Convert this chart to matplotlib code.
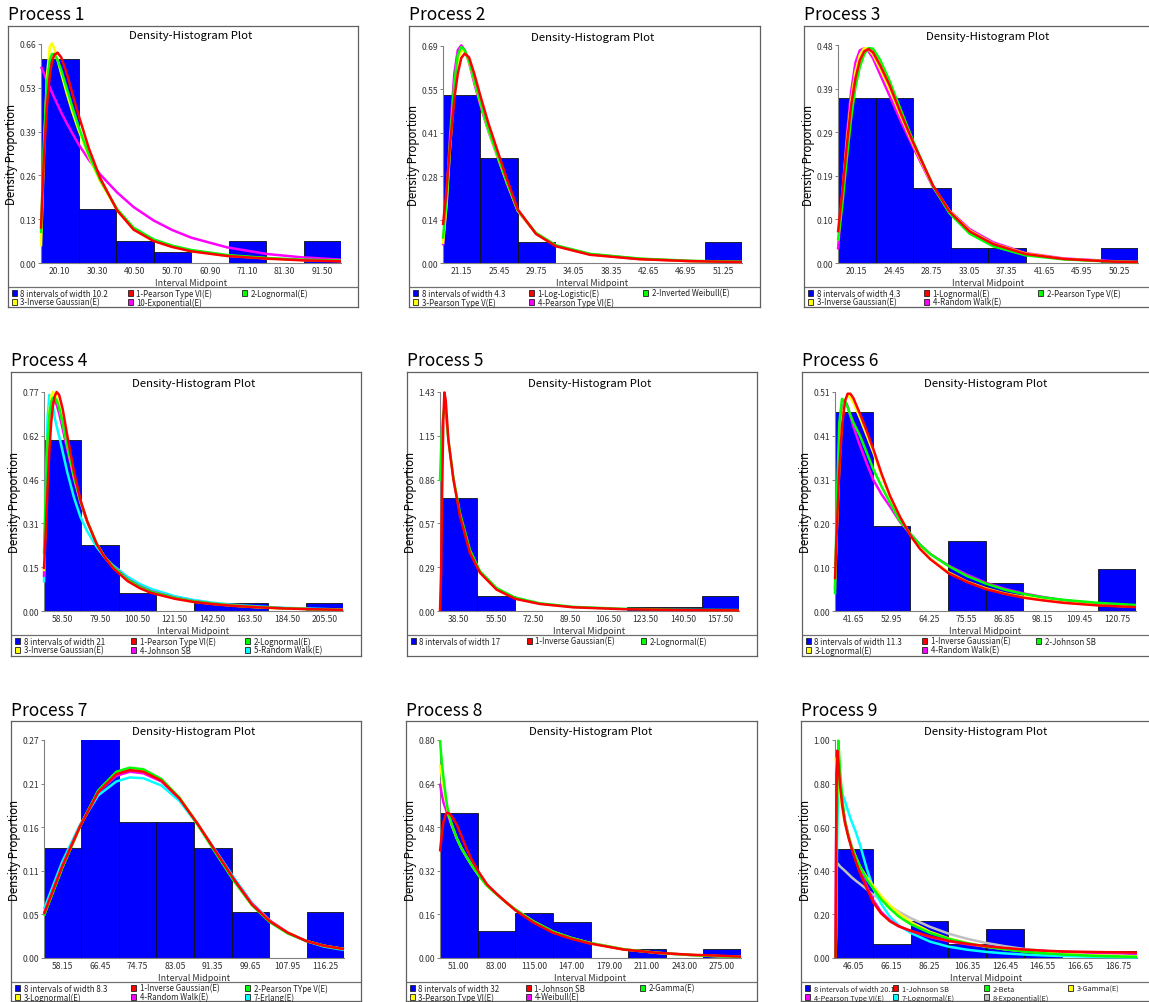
import numpy as np
import matplotlib
matplotlib.use('Agg')
from matplotlib import pyplot as plt
from matplotlib.patches import Rectangle

plt.rcParams['font.family'] = ['Noto Sans CJK KR', 'DejaVu Sans']

# ---------------- Process 1 ----------------
p1_mid = [20.10, 30.30, 40.50, 50.70, 60.90, 71.10, 81.30, 91.50]
p1_width = 10.2
p1_hist = [0.613, 0.161, 0.065, 0.032, 0.0, 0.065, 0.0, 0.065]
p1_ymax = 0.658
p1_yticks = ['0.00', '0.13', '0.26', '0.39', '0.53', '0.66']
p1_labels = ['8 intervals of width 10.2', '1-Pearson Type VI(E)', '2-Lognormal(E)',
             '3-Inverse Gaussian(E)', '10-Exponential(E)']
p1_x = [15.0, 15.8, 16.6, 17.4, 18.0, 18.6, 19.5, 20.5, 22.0, 23.5, 25.2, 28.0, 31.1,
        35.7, 40.2, 45.6, 50.7, 55.9, 65.6, 76.5, 86.0, 96.6]
p1_pearson6 = [0.103, 0.32, 0.47, 0.565, 0.605, 0.625, 0.632, 0.618, 0.57, 0.51, 0.445, 0.345,
               0.255, 0.158, 0.100, 0.066, 0.048, 0.035, 0.021, 0.013, 0.008, 0.005]
p1_lognorm = [0.09, 0.36, 0.54, 0.61, 0.628, 0.628, 0.61, 0.58, 0.525, 0.47, 0.41, 0.325,
              0.25, 0.162, 0.106, 0.071, 0.052, 0.039, 0.024, 0.015, 0.010, 0.007]
p1_invgauss = [0.05, 0.33, 0.56, 0.65, 0.66, 0.645, 0.61, 0.57, 0.51, 0.455, 0.40, 0.32,
               0.245, 0.160, 0.103, 0.068, 0.049, 0.036, 0.022, 0.014, 0.009, 0.006]
p1_expon = [0.59, 0.57, 0.548, 0.527, 0.512, 0.497, 0.476, 0.452, 0.42, 0.39, 0.357, 0.31,
            0.266, 0.212, 0.168, 0.128, 0.099, 0.076, 0.047, 0.027, 0.017, 0.010]

# ---------------- Process 2 ----------------
p2_mid = [21.15, 25.45, 29.75, 34.05, 38.35, 42.65, 46.95, 51.25]
p2_width = 4.3
p2_hist = [0.533, 0.333, 0.067, 0.0, 0.0, 0.0, 0.0, 0.067]
p2_ymax = 0.688
p2_yticks = ['0.00', '0.14', '0.28', '0.41', '0.55', '0.69']
p2_labels = ['8 intervals of width 4.3', '1-Log-Logistic(E)', '2-Inverted Weibull(E)',
             '3-Pearson Type V(E)', '4-Pearson Type VI(E)']
p2_x = [19.0, 19.4, 19.8, 20.3, 20.7, 21.1, 21.5, 22.0, 22.6, 23.3, 24.2, 25.1, 26.3, 27.6,
        29.7, 32.0, 35.9, 41.6, 47.4, 53.4]
p2_loglogistic = [0.12, 0.23, 0.37, 0.52, 0.60, 0.65, 0.664, 0.652, 0.60, 0.53, 0.445, 0.37,
                  0.27, 0.17, 0.092, 0.053, 0.026, 0.012, 0.006, 0.003]
p2_invweibull = [0.077, 0.2, 0.38, 0.57, 0.66, 0.685, 0.675, 0.64, 0.58, 0.51, 0.425, 0.355,
                 0.26, 0.167, 0.095, 0.056, 0.029, 0.014, 0.007, 0.004]
p2_pearson5 = [0.06, 0.18, 0.36, 0.55, 0.645, 0.673, 0.67, 0.638, 0.578, 0.508, 0.423, 0.352,
               0.258, 0.166, 0.094, 0.055, 0.028, 0.013, 0.006, 0.003]
p2_pearson6 = [0.056, 0.2, 0.40, 0.60, 0.675, 0.69, 0.675, 0.635, 0.57, 0.50, 0.42, 0.35,
               0.257, 0.165, 0.094, 0.055, 0.028, 0.013, 0.006, 0.003]

# ---------------- Process 3 ----------------
p3_mid = [20.15, 24.45, 28.75, 33.05, 37.35, 41.65, 45.95, 50.25]
p3_width = 4.3
p3_hist = [0.367, 0.367, 0.167, 0.033, 0.033, 0.0, 0.0, 0.033]
p3_ymax = 0.484
p3_yticks = ['0.00', '0.10', '0.19', '0.29', '0.39', '0.48']
p3_labels = ['8 intervals of width 4.3', '1-Lognormal(E)', '2-Pearson Type V(E)',
             '3-Inverse Gaussian(E)', '4-Random Walk(E)']
p3_x = [18.0, 18.5, 19.0, 19.5, 20.0, 20.5, 21.0, 21.5, 22.0, 22.8, 23.9, 25.2, 26.6, 28.9,
        30.8, 33.1, 35.8, 39.5, 43.9, 49.6, 52.4]
p3_lognorm = [0.068, 0.16, 0.26, 0.35, 0.41, 0.45, 0.47, 0.475, 0.468, 0.44, 0.395, 0.332,
              0.268, 0.172, 0.114, 0.07, 0.042, 0.02, 0.009, 0.003, 0.002]
p3_pearson5 = [0.05, 0.13, 0.23, 0.32, 0.39, 0.435, 0.463, 0.477, 0.476, 0.452, 0.405, 0.34,
               0.272, 0.17, 0.11, 0.065, 0.037, 0.017, 0.008, 0.003, 0.002]
p3_invgauss = [0.05, 0.15, 0.265, 0.36, 0.425, 0.462, 0.477, 0.474, 0.463, 0.432, 0.386, 0.326,
               0.264, 0.17, 0.115, 0.072, 0.043, 0.021, 0.009, 0.003, 0.002]
p3_randwalk = [0.03, 0.15, 0.28, 0.38, 0.445, 0.472, 0.477, 0.47, 0.455, 0.42, 0.372, 0.315,
               0.258, 0.168, 0.116, 0.075, 0.046, 0.022, 0.01, 0.004, 0.002]

# ---------------- Process 4 ----------------
p4_mid = [58.50, 79.50, 100.50, 121.50, 142.50, 163.50, 184.50, 205.50]
p4_width = 21
p4_hist = [0.600, 0.232, 0.065, 0.0, 0.029, 0.029, 0.0, 0.029]
p4_ymax = 0.77
p4_yticks = ['0.00', '0.15', '0.31', '0.46', '0.62', '0.77']
p4_labels = ['8 intervals of width 21', '1-Pearson Type VI(E)', '2-Lognormal(E)',
             '3-Inverse Gaussian(E)', '4-Johnson SB', '5-Random Walk(E)']
p4_x = [48.0, 49.0, 50.0, 51.0, 52.0, 53.0, 54.0, 55.1, 56.5, 58.5, 61.0, 64.8, 68.5, 72.3,
        77.6, 82.0, 86.9, 95.0, 101.9, 108.0, 121.5, 131.8, 143.0, 154.3, 168.0, 182.3,
        200.0, 216.0]
p4_pearson6 = [0.147, 0.28, 0.43, 0.56, 0.66, 0.72, 0.755, 0.77, 0.76, 0.71, 0.62, 0.49, 0.39,
               0.315, 0.235, 0.19, 0.15, 0.105, 0.08, 0.064, 0.043, 0.032, 0.024, 0.018,
               0.013, 0.009, 0.006, 0.004]
p4_lognorm = [0.20, 0.42, 0.60, 0.69, 0.735, 0.75, 0.75, 0.74, 0.715, 0.66, 0.585, 0.475,
              0.385, 0.315, 0.237, 0.19, 0.155, 0.11, 0.085, 0.068, 0.046, 0.034, 0.026,
              0.019, 0.014, 0.010, 0.006, 0.004]
p4_invgauss = [0.14, 0.38, 0.58, 0.70, 0.755, 0.77, 0.765, 0.75, 0.72, 0.665, 0.585, 0.475,
               0.385, 0.315, 0.235, 0.19, 0.153, 0.108, 0.083, 0.066, 0.045, 0.033, 0.025,
               0.019, 0.013, 0.009, 0.006, 0.004]
p4_johnsonsb = [0.12, 0.37, 0.57, 0.68, 0.73, 0.746, 0.74, 0.725, 0.695, 0.64, 0.57, 0.465,
                0.38, 0.313, 0.237, 0.192, 0.157, 0.112, 0.087, 0.07, 0.047, 0.035, 0.026,
                0.02, 0.014, 0.01, 0.006, 0.004]
p4_randwalk = [0.10, 0.42, 0.68, 0.76, 0.75, 0.72, 0.68, 0.65, 0.615, 0.56, 0.49, 0.40, 0.33,
               0.28, 0.225, 0.19, 0.16, 0.12, 0.095, 0.078, 0.052, 0.039, 0.029, 0.022,
               0.016, 0.011, 0.008, 0.005]

# ---------------- Process 5 ----------------
p5_mid = [38.50, 55.50, 72.50, 89.50, 106.50, 123.50, 140.50, 157.50]
p5_width = 17
p5_hist = [0.738, 0.098, 0.0, 0.0, 0.0, 0.028, 0.028, 0.098]
p5_ymax = 1.433
p5_yticks = ['0.00', '0.29', '0.57', '0.86', '1.15', '1.43']
p5_labels = ['8 intervals of width 17', '1-Inverse Gaussian(E)', '2-Lognormal(E)']
p5_x = [30.0, 30.5, 31.0, 31.5, 32.0, 32.6, 33.8, 36.1, 39.1, 43.6, 48.2, 55.7, 64.1, 75.4,
        90.6, 113.3, 136.0, 166.0]
p5_invgauss = [0.0, 0.25, 0.8, 1.25, 1.43, 1.38, 1.12, 0.86, 0.62, 0.38, 0.25, 0.14, 0.08,
               0.046, 0.024, 0.012, 0.007, 0.004]
p5_lognorm = [0.85, 1.05, 1.2, 1.29, 1.33, 1.3, 1.12, 0.87, 0.64, 0.40, 0.26, 0.15, 0.088,
              0.05, 0.027, 0.014, 0.009, 0.006]

# ---------------- Process 6 ----------------
p6_mid = [41.65, 52.95, 64.25, 75.55, 86.85, 98.15, 109.45, 120.75]
p6_width = 11.3
p6_hist = [0.465, 0.199, 0.0, 0.164, 0.065, 0.0, 0.0, 0.099]
p6_ymax = 0.511
p6_yticks = ['0.00', '0.10', '0.20', '0.31', '0.41', '0.51']
p6_labels = ['8 intervals of width 11.3', '1-Inverse Gaussian(E)', '2-Johnson SB',
             '3-Lognormal(E)', '4-Random Walk(E)']
p6_x = [36.0, 36.6, 37.3, 38.1, 39.0, 39.8, 40.6, 41.5, 43.5, 45.5, 47.5, 50.0, 52.5, 55.5,
        58.75, 61.5, 64.6, 70.1, 75.5, 81.3, 86.9, 92.6, 98.2, 104.7, 115.0, 126.4]
p6_invgauss = [0.074, 0.2, 0.33, 0.43, 0.49, 0.507, 0.507, 0.497, 0.46, 0.42, 0.378, 0.32,
               0.269, 0.22, 0.175, 0.145, 0.121, 0.088, 0.068, 0.051, 0.04, 0.031, 0.025,
               0.019, 0.013, 0.009]
p6_johnsonsb = [0.039, 0.27, 0.44, 0.495, 0.49, 0.475, 0.458, 0.44, 0.409, 0.37, 0.331, 0.29,
                0.253, 0.21, 0.179, 0.155, 0.133, 0.105, 0.082, 0.064, 0.05, 0.04, 0.032,
                0.026, 0.019, 0.014]
p6_lognorm = [0.07, 0.2, 0.34, 0.445, 0.492, 0.502, 0.498, 0.487, 0.45, 0.41, 0.37, 0.315,
              0.267, 0.22, 0.176, 0.147, 0.122, 0.09, 0.069, 0.053, 0.041, 0.033, 0.026,
              0.02, 0.014, 0.01]
p6_randwalk = [0.05, 0.22, 0.38, 0.47, 0.49, 0.478, 0.455, 0.43, 0.386, 0.345, 0.306, 0.272,
               0.244, 0.208, 0.179, 0.155, 0.133, 0.106, 0.085, 0.066, 0.052, 0.041, 0.033,
               0.025, 0.017, 0.012]

# ---------------- Process 7 ----------------
p7_mid = [58.15, 66.45, 74.75, 83.05, 91.35, 99.65, 107.95, 116.25]
p7_width = 8.3
p7_hist = [0.135, 0.27, 0.167, 0.167, 0.135, 0.056, 0.0, 0.056]
p7_ymax = 0.268
p7_yticks = ['0.00', '0.05', '0.11', '0.16', '0.21', '0.27']
p7_labels = ['8 intervals of width 8.3', '1-Inverse Gaussian(E)', '2-Pearson TYpe V(E)',
             '3-Lognormal(E)', '4-Random Walk(E)', '7-Erlang(E)']
p7_x = [54, 58, 62, 66, 70, 73, 76, 80, 84, 88, 92, 96, 100, 104, 108, 112, 116, 120.4]
p7_invgauss = [0.054, 0.112, 0.162, 0.204, 0.226, 0.231, 0.229, 0.218, 0.196, 0.165, 0.131,
               0.097, 0.066, 0.045, 0.031, 0.021, 0.015, 0.011]
p7_pearson5 = [0.052, 0.110, 0.162, 0.206, 0.229, 0.234, 0.232, 0.220, 0.197, 0.164, 0.129,
               0.095, 0.065, 0.044, 0.030, 0.021, 0.015, 0.011]
p7_lognorm = [0.053, 0.111, 0.162, 0.205, 0.227, 0.232, 0.230, 0.219, 0.197, 0.165, 0.130,
              0.096, 0.066, 0.045, 0.031, 0.021, 0.015, 0.011]
p7_randwalk = [0.055, 0.113, 0.163, 0.204, 0.224, 0.229, 0.227, 0.217, 0.196, 0.165, 0.131,
               0.097, 0.067, 0.046, 0.031, 0.021, 0.015, 0.011]
p7_erlang = [0.060, 0.118, 0.164, 0.200, 0.217, 0.222, 0.221, 0.212, 0.193, 0.164, 0.132,
             0.099, 0.068, 0.046, 0.031, 0.021, 0.014, 0.010]

# ---------------- Process 8 ----------------
p8_mid = [51.00, 83.00, 115.00, 147.00, 179.00, 211.00, 243.00, 275.00]
p8_width = 32
p8_hist = [0.531, 0.099, 0.165, 0.132, 0.0, 0.032, 0.0, 0.032]
p8_ymax = 0.80
p8_yticks = ['0.00', '0.16', '0.32', '0.48', '0.64', '0.80']
p8_labels = ['8 intervals of width 32', '1-Johnson SB', '2-Gamma(E)',
             '3-Pearson Type VI(E)', '4-Weibull(E)']
p8_x = [35.0, 36.5, 38.0, 40.0, 41.2, 43.0, 45.0, 49.2, 53.0, 57.7, 62.0, 67.6, 75.0, 83.3,
        91.0, 99.1, 114.5, 131.5, 147.0, 162.7, 191.1, 219.5, 247.9, 270.0, 291.0]
p8_johnsonsb = [0.391, 0.45, 0.50, 0.528, 0.533, 0.53, 0.52, 0.49, 0.45, 0.40, 0.36, 0.318,
                0.27, 0.235, 0.205, 0.175, 0.13, 0.092, 0.07, 0.053, 0.031, 0.019, 0.012,
                0.009, 0.005]
p8_gamma = [0.80, 0.72, 0.66, 0.59, 0.555, 0.52, 0.49, 0.44, 0.405, 0.37, 0.34, 0.305, 0.265,
            0.233, 0.205, 0.178, 0.134, 0.096, 0.073, 0.055, 0.032, 0.019, 0.011, 0.007,
            0.004]
p8_pearson6 = [0.71, 0.67, 0.63, 0.58, 0.55, 0.517, 0.488, 0.44, 0.405, 0.37, 0.34, 0.305,
               0.265, 0.233, 0.205, 0.178, 0.134, 0.096, 0.073, 0.055, 0.032, 0.019, 0.011,
               0.007, 0.004]
p8_weibull = [0.64, 0.60, 0.57, 0.545, 0.53, 0.51, 0.485, 0.44, 0.405, 0.37, 0.34, 0.306,
              0.266, 0.234, 0.206, 0.178, 0.134, 0.096, 0.073, 0.055, 0.032, 0.019, 0.011,
              0.007, 0.004]

# ---------------- Process 9 ----------------
p9_mid = [46.05, 66.15, 86.25, 106.35, 126.45, 146.55, 166.65, 186.75]
p9_width = 20.1
p9_hist = [0.499, 0.066, 0.168, 0.066, 0.134, 0.025, 0.0, 0.032]
p9_ymax = 1.00
p9_yticks = ['0.00', '0.20', '0.40', '0.60', '0.80', '1.00']
p9_labels = ['8 intervals of width 20.1', '1-Johnson SB', '2-Beta', '3-Gamma(E)',
             '4-Pearson Type VI(E)', '7-Lognormal(E)', '8-Exponential(E)']
p9_x = [36.3, 36.6, 36.9, 37.2, 37.8, 38.7, 40.0, 41.3, 43.1, 44.9, 47.0, 49.3, 52.9, 56.4,
        60.5, 65.3, 70.0, 76.3, 86.6, 96.4, 106.4, 116.5, 126.5, 136.4, 146.5, 157.7, 177.0,
        196.8]
p9_johnsonsb = [0.0, 0.5, 0.85, 0.951, 0.9, 0.79, 0.69, 0.62, 0.555, 0.50, 0.445, 0.39, 0.32,
                0.255, 0.205, 0.168, 0.145, 0.125, 0.098, 0.079, 0.065, 0.054, 0.046, 0.039,
                0.034, 0.030, 0.027, 0.025]
p9_beta = [0.0, 0.15, 0.45, 0.75, 0.997, 0.86, 0.72, 0.63, 0.56, 0.51, 0.465, 0.42, 0.36,
           0.318, 0.27, 0.226, 0.19, 0.155, 0.115, 0.088, 0.068, 0.052, 0.04, 0.03, 0.022,
           0.016, 0.009, 0.005]
p9_gamma = [0.92, 0.90, 0.87, 0.84, 0.80, 0.74, 0.68, 0.62, 0.56, 0.51, 0.465, 0.42, 0.37,
            0.33, 0.285, 0.241, 0.205, 0.165, 0.12, 0.09, 0.068, 0.052, 0.04, 0.031, 0.024,
            0.018, 0.011, 0.007]
p9_pearson6 = [0.0, 0.55, 0.88, 0.93, 0.89, 0.8, 0.70, 0.63, 0.565, 0.51, 0.455, 0.40, 0.33,
               0.265, 0.212, 0.172, 0.146, 0.124, 0.096, 0.077, 0.063, 0.052, 0.044, 0.037,
               0.032, 0.028, 0.024, 0.021]
p9_lognorm = [0.0, 0.1, 0.35, 0.6, 0.8, 0.78, 0.75, 0.72, 0.67, 0.625, 0.58, 0.52, 0.41, 0.32,
              0.25, 0.188, 0.15, 0.115, 0.075, 0.052, 0.038, 0.028, 0.021, 0.016, 0.012,
              0.009, 0.005, 0.003]
p9_expon = [0.44, 0.438, 0.436, 0.434, 0.43, 0.42, 0.41, 0.40, 0.385, 0.37, 0.355, 0.34, 0.315,
            0.29, 0.265, 0.238, 0.212, 0.183, 0.143, 0.112, 0.088, 0.069, 0.054, 0.042, 0.033,
            0.026, 0.016, 0.010]

panels = [
    dict(mid=p1_mid, width=p1_width, hist=p1_hist, ymax=p1_ymax, yticks=p1_yticks,
         labels=p1_labels, x=p1_x, curves=[p1_pearson6, p1_lognorm, p1_invgauss, p1_expon]),
    dict(mid=p2_mid, width=p2_width, hist=p2_hist, ymax=p2_ymax, yticks=p2_yticks,
         labels=p2_labels, x=p2_x,
         curves=[p2_loglogistic, p2_invweibull, p2_pearson5, p2_pearson6]),
    dict(mid=p3_mid, width=p3_width, hist=p3_hist, ymax=p3_ymax, yticks=p3_yticks,
         labels=p3_labels, x=p3_x, curves=[p3_lognorm, p3_pearson5, p3_invgauss, p3_randwalk]),
    dict(mid=p4_mid, width=p4_width, hist=p4_hist, ymax=p4_ymax, yticks=p4_yticks,
         labels=p4_labels, x=p4_x,
         curves=[p4_pearson6, p4_lognorm, p4_invgauss, p4_johnsonsb, p4_randwalk]),
    dict(mid=p5_mid, width=p5_width, hist=p5_hist, ymax=p5_ymax, yticks=p5_yticks,
         labels=p5_labels, x=p5_x, curves=[p5_invgauss, p5_lognorm]),
    dict(mid=p6_mid, width=p6_width, hist=p6_hist, ymax=p6_ymax, yticks=p6_yticks,
         labels=p6_labels, x=p6_x, curves=[p6_invgauss, p6_johnsonsb, p6_lognorm, p6_randwalk]),
    dict(mid=p7_mid, width=p7_width, hist=p7_hist, ymax=p7_ymax, yticks=p7_yticks,
         labels=p7_labels, x=p7_x,
         curves=[p7_invgauss, p7_pearson5, p7_lognorm, p7_randwalk, p7_erlang]),
    dict(mid=p8_mid, width=p8_width, hist=p8_hist, ymax=p8_ymax, yticks=p8_yticks,
         labels=p8_labels, x=p8_x, curves=[p8_johnsonsb, p8_gamma, p8_pearson6, p8_weibull]),
    dict(mid=p9_mid, width=p9_width, hist=p9_hist, ymax=p9_ymax, yticks=p9_yticks,
         labels=p9_labels, x=p9_x,
         curves=[p9_johnsonsb, p9_beta, p9_gamma, p9_pearson6, p9_lognorm, p9_expon]),
]

CURVE_COLORS = ['#ff0000', '#00ff00', '#ffff00', '#ff00ff', '#00ffff', '#c0c0c0']
BAR_COLOR = '#0000ff'

# layout in pixels (image is 1149 x 1003)
W, H = 1149, 1003
BOX_T = [27, 373, 722]
BOX_B = [308, 657, 1002]
SEP_Y = [288, 636, 983]
AX_B = [264, 612, 959]
AX_T = [[45, 47, 46], [393, 393, 393], [741, 741, 741]]
BOX_L = [[8, 409, 804], [11, 407, 802], [11, 406, 801]]
BOX_R = [[358, 760, 1152], [361, 757, 1152], [361, 757, 1152]]
AX_L = [[41, 443, 838], [44, 440, 835], [44, 440, 835]]
AX_R = [[341, 742, 1138], [343, 739, 1136], [344, 741, 1137]]
LEG_COLS3 = [4, 120, 234]
LEG_COLS4 = [4, 92, 183, 267]


def frac(l, t, r, b):
    return [l / W, 1 - b / H, (r - l) / W, (b - t) / H]


fig = plt.figure(figsize=(W / 100, H / 100), dpi=100)

for k, p in enumerate(panels):
    row, col = divmod(k, 3)
    bl, bt, br, bb = BOX_L[row][col], BOX_T[row], BOX_R[row][col], BOX_B[row]
    al, at, ar, ab = AX_L[row][col], AX_T[row][col], AX_R[row][col], AX_B[row]

    # outer frame with legend strip
    box = fig.add_axes(frac(bl, bt, br, bb))
    box.set_xlim(0, br - bl)
    box.set_ylim(bb - bt, 0)
    box.set_xticks([])
    box.set_yticks([])
    for s in box.spines.values():
        s.set_color('#606060')
        s.set_linewidth(0.9)
    sep = SEP_Y[row] - bt
    box.axhline(sep, color='#707070', lw=0.9)

    fig.text(bl / W, 1 - (bt - 6.5) / H, 'Process %d' % (k + 1), fontsize=12.5,
             ha='left', va='baseline')

    # legend entries laid out row by row
    labels = p['labels']
    ncols = 4 if len(labels) > 6 else 3
    cols = LEG_COLS4 if ncols == 4 else LEG_COLS3
    legsize = 5.3 if ncols == 4 else 5.7
    for i, lab in enumerate(labels):
        r, c = divmod(i, ncols)
        x0 = cols[c]
        yc = sep + 6 + 9 * r
        color = BAR_COLOR if i == 0 else CURVE_COLORS[i - 1]
        box.add_patch(Rectangle((x0, yc - 3.3), 5, 6.6, facecolor=color,
                                edgecolor='#202020', lw=0.6))
        box.text(x0 + 8.5, yc + 2.7, lab, fontsize=legsize, ha='left', va='baseline',
                 color='#222222')

    # plot area
    ax = fig.add_axes(frac(al, at, ar, ab))
    ax.patch.set_alpha(0)
    mids = np.array(p['mid'])
    hist = np.array(p['hist'])
    w = p['width']
    keep = hist > 0
    ax.bar(mids[keep], hist[keep], width=w, color=BAR_COLOR, edgecolor='#101010',
           linewidth=0.6, zorder=1)
    n = len(p['curves'])
    for j in range(n - 1, -1, -1):
        ax.plot(p['x'], p['curves'][j], color=CURVE_COLORS[j], lw=1.8, zorder=2 + n - j,
                clip_on=False, solid_joinstyle='round', solid_capstyle='butt')

    ax.set_xlim(mids[0] - w / 2, mids[-1] + w / 2)
    ax.set_ylim(0, p['ymax'])
    ax.set_xticks(mids, ['%.2f' % m for m in mids])
    ax.set_yticks(np.linspace(0, p['ymax'], 6), p['yticks'])
    ax.tick_params(axis='x', length=0, pad=2.5, labelsize=6.2, labelcolor='#333333')
    ax.tick_params(axis='y', length=2.5, width=0.7, color='#808080', pad=1,
                   labelsize=6.2, labelcolor='#333333')
    for side in ('top', 'right'):
        ax.spines[side].set_visible(False)
    for side in ('left', 'bottom'):
        ax.spines[side].set_color('#808080')
        ax.spines[side].set_linewidth(0.8)

    ax.set_title('Density-Histogram Plot', fontsize=8.2, pad=4)
    ax.set_xlabel('Interval Midpoint', fontsize=6.4, labelpad=1.5, color='#333333')
    ax.set_ylabel('Density Proportion', fontsize=8.3)
    ax.yaxis.set_label_coords(-23 / (ar - al), 0.5)

fig.savefig('out.png', dpi=100, facecolor='white')
